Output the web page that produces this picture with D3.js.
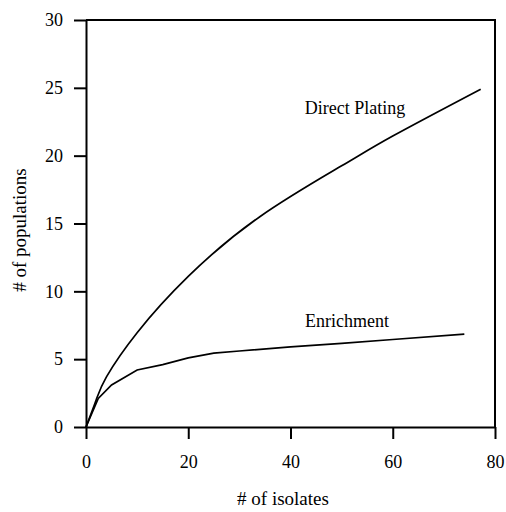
<!DOCTYPE html>
<html>
<head>
<meta charset="utf-8">
<script src="https://cdn.jsdelivr.net/npm/d3@7"></script>
<style>
  html, body { margin: 0; padding: 0; background: #fff; overflow: hidden; }
  svg { display: block; }
  svg text { font-family: "Liberation Serif", "Times New Roman", serif; fill: #000; }
</style>
</head>
<body>
<div id="chart"></div>
<script>
// data
const directPlating = [
  [0, 0], [2, 2.0], [4, 3.7], [10, 6.95], [20, 11.1], [34, 15.5],
  [50, 19.25], [60, 21.45], [77.2, 24.9]
];
const enrichment = [
  [0, 0], [2.4, 2.1], [5, 3.1], [10, 4.2], [15, 4.6], [20, 5.1], [25, 5.45],
  [30, 5.6], [40, 5.9], [50, 6.17], [60, 6.45], [74, 6.85]
];
const xTicks = [0, 20, 40, 60, 80];
const yTicks = [0, 5, 10, 15, 20, 25, 30];
const seriesLabels = [
  { text: "Direct Plating", x: 355, y: 23.05 },
  { text: "Enrichment", x: 347, y: 7.37 }
];

const WIDTH = 506, HEIGHT = 512;
const MARGIN = { top: 20, right: 11, bottom: 85, left: 86 };
const innerWidth = WIDTH - MARGIN.left - MARGIN.right;
const innerHeight = HEIGHT - MARGIN.top - MARGIN.bottom;

const svg = d3.select("#chart")
  .append("svg")
  .attr("width", WIDTH)
  .attr("height", HEIGHT);

const g = svg.append("g")
  .attr("transform", `translate(${MARGIN.left},${MARGIN.top})`);

const x = d3.scaleLinear().domain([0, 80]).range([0, innerWidth]);
const y = d3.scaleLinear().domain([0, 30]).range([innerHeight, 0]);

// frame (top and right)
g.append("path")
  .attr("d", `M0,0H${innerWidth}V${innerHeight}`)
  .attr("fill", "none")
  .attr("stroke", "#000")
  .attr("stroke-width", 2);

const xAxis = g.append("g")
  .attr("transform", `translate(0,${innerHeight})`)
  .call(d3.axisBottom(x).tickValues(xTicks).tickSize(12).tickSizeOuter(0).tickPadding(16));

const yAxis = g.append("g")
  .call(d3.axisLeft(y).tickValues(yTicks).tickSize(12).tickSizeOuter(0).tickPadding(11));

[xAxis, yAxis].forEach((a) => {
  a.attr("font-family", null).attr("font-size", null);
  a.selectAll("path, line").attr("stroke", "#000").attr("stroke-width", 2);
  a.selectAll("text")
    .style("font-family", '"Liberation Serif", "Times New Roman", serif')
    .style("font-size", "18px")
    .attr("fill", "#000");
});

// curves
g.append("path")
  .datum(directPlating)
  .attr("fill", "none")
  .attr("stroke", "#000")
  .attr("stroke-width", 1.7)
  .attr("d", d3.line().x((d) => x(d[0])).y((d) => y(d[1])).curve(d3.curveNatural));

g.append("path")
  .datum(enrichment)
  .attr("fill", "none")
  .attr("stroke", "#000")
  .attr("stroke-width", 1.7)
  .attr("d", d3.line().x((d) => x(d[0])).y((d) => y(d[1])));

// series labels
g.selectAll(".series-label")
  .data(seriesLabels)
  .enter()
  .append("text")
  .attr("class", "series-label")
  .attr("x", (d) => d.x - MARGIN.left)
  .attr("y", (d) => y(d.y))
  .attr("text-anchor", "middle")
  .style("font-size", "18px")
  .text((d) => d.text);

// axis titles
svg.append("text")
  .attr("x", 283)
  .attr("y", 505)
  .attr("text-anchor", "middle")
  .style("font-size", "19px")
  .text("# of isolates");

svg.append("text")
  .attr("transform", "translate(26,230) rotate(-90)")
  .attr("text-anchor", "middle")
  .style("font-size", "19px")
  .text("# of populations");
</script>
</body>
</html>
